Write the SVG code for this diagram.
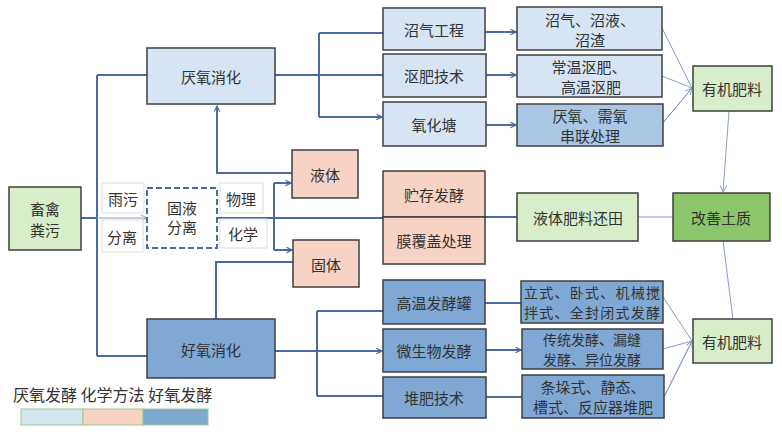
<svg xmlns="http://www.w3.org/2000/svg" width="782" height="438" viewBox="0 0 782 438">
<style>
text{font-family:"Noto Sans CJK SC","Noto Sans",sans-serif;font-size:15px;fill:#333;text-anchor:middle;dominant-baseline:central}
.s{font-size:14px}
.box{stroke:#3f3f3f;stroke-width:1.5}
.lb{fill:#d6e4f3}
.db{fill:#7fa8d4}
.mb{fill:#a9c6e4}
.pk{fill:#f7d3c6}
.lg{fill:#d8edc9}
.dg{fill:#8cc66b}
.wt{fill:#fff;stroke:#ddd;stroke-width:1}
.c{fill:none;stroke:#4a6aa3;stroke-width:2}
.t{fill:none;stroke:#8a9dc0;stroke-width:1}
</style>
<defs>
<marker id="a" viewBox="0 0 10 10" refX="9" refY="5" markerWidth="7" markerHeight="7" orient="auto" markerUnits="userSpaceOnUse"><path d="M1,1 L9,5 L1,9" fill="none" stroke="#4a6aa3" stroke-width="1.6"/></marker>
<marker id="at" viewBox="0 0 10 10" refX="9" refY="5" markerWidth="8" markerHeight="8" orient="auto" markerUnits="userSpaceOnUse"><path d="M1,1 L9,5 L1,9" fill="none" stroke="#8a9dc0" stroke-width="1.2"/></marker>
</defs>
<rect width="782" height="438" fill="#fff"/>
<g id="connectors">
<path class="c" d="M81,218 H97 M97,75 V356 M97,75 H147 M97,356 H147"/>
<path class="t" d="M97,218 H147" marker-end="url(#at)"/>
<path class="c" d="M292,173 H217 V106" marker-end="url(#a)"/>
<path class="c" d="M217,218 H383 M274,183 V250"/>
<path class="c" d="M274,183 H291" marker-end="url(#a)"/>
<path class="c" d="M274,250 H292" marker-end="url(#a)"/>
<path class="c" d="M216,319 V262 H293"/>
<path class="c" d="M275,75 H383 M319,33 V117 M319,33 H383"/>
<path class="c" d="M319,117 H382" marker-end="url(#a)"/>
<path class="c" d="M485,32 H516" marker-end="url(#a)"/>
<path class="c" d="M486,75 H516" marker-end="url(#a)"/>
<path class="c" d="M486,125 H516" marker-end="url(#a)"/>
<path class="t" d="M662,28 L692,88 M662,76 L692,88 M662,124 L692,88"/>
<path class="t" d="M662,124 L692,88" marker-end="url(#at)"/>
<path class="t" d="M729,111 L723,192" marker-end="url(#at)"/>
<path class="c" d="M485,217 H517"/>
<path class="t" d="M638,217 H673"/>
<path class="t" d="M723,241 L733,319"/>
<path class="c" d="M275,351 H317 M317,311 V396 M317,311 H383 M317,396 H383"/>
<path class="c" d="M317,351 H382" marker-end="url(#a)"/>
<path class="c" d="M485,303 H521"/>
<path class="c" d="M486,350 H521" marker-end="url(#a)"/>
<path class="c" d="M486,397 H522"/>
<path class="t" d="M663,297 L692,341 M663,349 L692,341 M664,397 L692,341"/>
<path class="t" d="M664,397 L692,341" marker-end="url(#at)"/>
</g>
<g id="n-chuqin"><rect class="box lg" x="9" y="187" width="72" height="63"/><text x="45" y="208">畜禽</text><text x="45" y="229">粪污</text></g>
<g id="n-yuwu"><rect class="wt" x="102" y="183" width="42" height="30"/><text x="123" y="198">雨污</text></g>
<g id="n-fenli"><rect class="wt" x="102" y="220" width="41" height="32"/><text x="122" y="236">分离</text></g>
<g id="n-guye"><rect x="147" y="188" width="70" height="60" fill="#fff" stroke="#4a6aa3" stroke-width="2" stroke-dasharray="6,3"/><text x="182" y="207">固液</text><text x="182" y="226">分离</text></g>
<g id="n-wuli"><rect class="wt" x="220" y="183" width="43" height="30"/><text x="241" y="198">物理</text></g>
<g id="n-huaxue"><rect class="wt" x="220" y="219" width="47" height="29"/><text x="243" y="233">化学</text></g>
<g id="n-yanyang"><rect class="box lb" x="147" y="48" width="128" height="56"/><text x="211" y="76">厌氧消化</text></g>
<g id="n-haoyang"><rect class="box db" x="147" y="319" width="128" height="59"/><text x="211" y="349">好氧消化</text></g>
<g id="n-yeti"><rect class="box pk" x="292" y="150" width="66" height="48"/><text x="325" y="174">液体</text></g>
<g id="n-guti"><rect class="box pk" x="293" y="240" width="66" height="47"/><text x="326" y="264">固体</text></g>
<g id="n-zhaoqi"><rect class="box lb" x="383" y="8" width="102" height="42"/><text x="434" y="29">沼气工程</text></g>
<g id="n-oufei"><rect class="box lb" x="383" y="54" width="103" height="43"/><text x="434" y="75">沤肥技术</text></g>
<g id="n-yanghua"><rect class="box lb" x="383" y="102" width="103" height="44"/><text x="434" y="124">氧化塘</text></g>
<g id="n-zhucun"><rect class="box pk" x="383" y="171" width="102" height="46"/><text x="434" y="194">贮存发酵</text></g>
<g id="n-mofu"><rect class="box pk" x="383" y="217" width="102" height="47"/><text x="434" y="240">膜覆盖处理</text></g>
<g id="n-gaowen"><rect class="box db" x="383" y="280" width="102" height="44"/><text x="434" y="302">高温发酵罐</text></g>
<g id="n-weisheng"><rect class="box db" x="383" y="329" width="103" height="43"/><text x="434" y="350">微生物发酵</text></g>
<g id="n-duifei"><rect class="box db" x="383" y="377" width="103" height="41"/><text x="434" y="397">堆肥技术</text></g>
<g id="n-r1"><rect class="box lb" x="517" y="7" width="145" height="43"/><text x="590" y="19">沼气、沼液、</text><text x="590" y="39">沼渣</text></g>
<g id="n-r2"><rect class="box lb" x="517" y="55" width="145" height="42"/><text x="589" y="66">常温沤肥、</text><text x="591" y="86">高温沤肥</text></g>
<g id="n-r3"><rect class="box mb" x="517" y="104" width="146" height="42"/><text x="590" y="115">厌氧、需氧</text><text x="590" y="135">串联处理</text></g>
<g id="n-yetifeiliao"><rect class="box lg" x="517" y="193" width="121" height="48"/><text x="578" y="217">液体肥料还田</text></g>
<g id="n-r4"><rect class="box db" x="521" y="281" width="142" height="42"/><text class="s" x="592" y="292" textLength="136">立式、卧式、机械搅</text><text class="s" x="592" y="312" textLength="136">拌式、全封闭式发酵</text></g>
<g id="n-r5"><rect class="box db" x="522" y="329" width="141" height="40"/><text class="s" x="592" y="339">传统发酵、漏缝</text><text class="s" x="592" y="359">发酵、异位发酵</text></g>
<g id="n-r6"><rect class="box db" x="522" y="375" width="142" height="43"/><text x="593" y="386">条垛式、静态、</text><text x="593" y="406">槽式、反应器堆肥</text></g>
<g id="n-youji1"><rect class="box lg" x="693" y="66" width="79" height="45"/><text x="732" y="88">有机肥料</text></g>
<g id="n-gaishan"><rect class="box dg" x="673" y="193" width="97" height="48"/><text x="721" y="217">改善土质</text></g>
<g id="n-youji2"><rect class="box lg" x="693" y="319" width="79" height="44"/><text x="732" y="341">有机肥料</text></g>
<g id="legend">
<text x="13" y="394" style="text-anchor:start;font-size:16px">厌氧发酵 化学方法 好氧发酵</text>
<rect x="21" y="409" width="62" height="16" fill="#d6e6f0" stroke="#9cc98a"/>
<rect x="83" y="409" width="60" height="16" fill="#f6d3c2" stroke="#9cc98a"/>
<rect x="143" y="409" width="65" height="16" fill="#7fa8d0" stroke="#9cc98a"/>
</g>
</svg>
